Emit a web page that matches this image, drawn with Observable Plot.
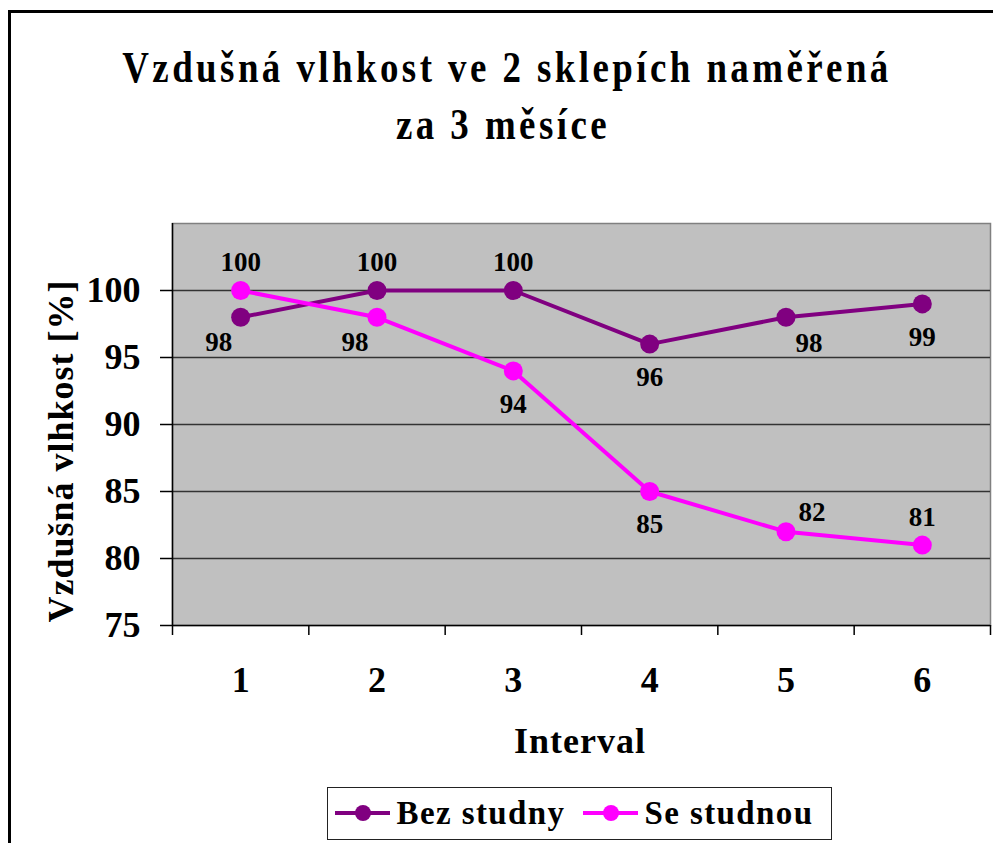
<!DOCTYPE html>
<html><head><meta charset="utf-8">
<script src="https://cdn.jsdelivr.net/npm/d3@7"></script>
<script src="https://cdn.jsdelivr.net/npm/@observablehq/plot@0.6"></script>
<style>
html,body{margin:0;padding:0;background:#fff;}
#wrap{position:relative;width:993px;height:843px;overflow:hidden;font-family:"Liberation Serif","Times New Roman",serif;font-weight:bold;color:#000;}
#chart{position:absolute;left:0;top:0;}
#frame{position:absolute;left:8px;top:10px;width:1100px;height:1000px;border-left:3px solid #000;border-top:3px solid #000;box-sizing:border-box;pointer-events:none;}
.t{position:absolute;white-space:nowrap;line-height:1;}
#legend{position:absolute;left:327px;top:787px;width:505px;height:53px;border:1.5px solid #222;box-sizing:border-box;background:#fff;}
</style></head><body>
<div id="wrap">
  <div id="chart"></div>
  <div id="frame"></div>
  <div class="t" id="title1" style="left:507px;top:45px;font-size:45px;letter-spacing:4.2px;transform:translateX(-50%) scaleX(0.82);">Vzdušná vlhkost ve 2 sklepích naměřená</div>
  <div class="t" id="title2" style="left:503px;top:102px;font-size:45px;letter-spacing:4.2px;transform:translateX(-50%) scaleX(0.82);">za 3 měsíce</div>
  <div class="t" id="ylabel" style="left:60.5px;top:451px;font-size:36px;letter-spacing:1px;transform:translate(-50%,-50%) rotate(-90deg);">Vzdušná vlhkost [%]</div>
  <div class="t" id="xlabel" style="left:580px;top:723px;font-size:36px;letter-spacing:1px;transform:translateX(-50%);">Interval</div>
  <div id="legend"></div>
</div>
<script>
const intervals = [1, 2, 3, 4, 5, 6];
const seriesNames = ["Bez studny", "Se studnou"];
const bezStudny = [98, 100, 100, 96, 98, 99];
const seStudnou = [100, 98, 94, 85, 82, 81];
const yTicks = [75, 80, 85, 90, 95, 100];
const gridValues = [80, 85, 90, 95, 100];
const bezLabelPlacement = ["below-left", "above", "above", "below", "below-right", "below"];
const seLabelPlacement = ["above", "below-left", "below", "below", "above-right", "above"];

const colors = {"Bez studny": "#800080", "Se studnou": "#ff00ff"};
const offsets = {
  "above": [0, -28],
  "below": [0, 33],
  "below-left": [-22, 25],
  "below-right": [23, 26],
  "above-right": [26, -19]
};
const FONT = '"Liberation Serif","Times New Roman",serif';

const bezRows = intervals.map((d, i) => ({interval: d, value: bezStudny[i], series: seriesNames[0], placement: bezLabelPlacement[i]}));
const seRows = intervals.map((d, i) => ({interval: d, value: seStudnou[i], series: seriesNames[1], placement: seLabelPlacement[i]}));
const allRows = bezRows.concat(seRows);
const boundaries = intervals.map(d => d - 0.5).concat([intervals[intervals.length - 1] + 0.5]);

const labelMarks = Object.keys(offsets).map(k => Plot.text(allRows.filter(r => r.placement === k), {
  x: "interval", y: "value", text: d => String(d.value),
  dx: offsets[k][0], dy: offsets[k][1],
  fontSize: 27, fontWeight: "bold", fontFamily: FONT, fill: "#000"
}));

const chart = Plot.plot({
  width: 993,
  height: 843,
  marginTop: 223,
  marginBottom: 218,
  marginLeft: 172,
  marginRight: 3,
  style: {background: "transparent", fontFamily: FONT, overflow: "visible"},
  x: {type: "linear", domain: [boundaries[0], boundaries[boundaries.length - 1]]},
  y: {domain: [75, 105]},
  marks: [
    Plot.frame({fill: "#c0c0c0", stroke: "#808080", strokeWidth: 1.5}),
    Plot.ruleY(gridValues, {stroke: "#333", strokeWidth: 1.5}),
    Plot.axisY({ticks: yTicks, tickSize: 12, tickPadding: 20, label: null, fontSize: 36, fontWeight: "bold", fontFamily: FONT, stroke: "#000", strokeWidth: 1.5, strokeOpacity: 1, fill: "#000"}),
    Plot.axisX({ticks: boundaries, tickSize: 10, tickFormat: () => "", label: null, stroke: "#000", strokeWidth: 1.5, strokeOpacity: 1}),
    Plot.axisX({ticks: intervals, tickSize: 0, tickPadding: 41, label: null, fontSize: 36, fontWeight: "bold", fontFamily: FONT, tickFormat: d => String(d), fill: "#000"}),
    Plot.ruleX([boundaries[0]], {stroke: "#000", strokeWidth: 1.5}),
    Plot.ruleY([75], {stroke: "#000", strokeWidth: 1.5}),
    Plot.line(bezRows, {x: "interval", y: "value", stroke: colors["Bez studny"], strokeWidth: 4}),
    Plot.dot(bezRows, {x: "interval", y: "value", r: 9.5, fill: colors["Bez studny"]}),
    Plot.line(seRows, {x: "interval", y: "value", stroke: colors["Se studnou"], strokeWidth: 4}),
    Plot.dot(seRows, {x: "interval", y: "value", r: 9.5, fill: colors["Se studnou"]}),
    ...labelMarks
  ]
});
document.getElementById("chart").appendChild(chart);

// legend
const legend = document.getElementById("legend");
const legendPos = [{sw: 335 - 327, tx: 397 - 327}, {sw: 583 - 327, tx: 645 - 327}];
seriesNames.forEach((name, i) => {
  const ns = "http://www.w3.org/2000/svg";
  const svg = document.createElementNS(ns, "svg");
  svg.setAttribute("width", 56); svg.setAttribute("height", 24);
  svg.style.position = "absolute";
  svg.style.left = (legendPos[i].sw - 1.5) + "px";
  svg.style.top = (813 - 787 - 12 - 1.5) + "px";
  const ln = document.createElementNS(ns, "line");
  ln.setAttribute("x1", 0); ln.setAttribute("x2", 55); ln.setAttribute("y1", 12); ln.setAttribute("y2", 12);
  ln.setAttribute("stroke", colors[name]); ln.setAttribute("stroke-width", 4);
  const c = document.createElementNS(ns, "circle");
  c.setAttribute("cx", 28); c.setAttribute("cy", 12); c.setAttribute("r", 8); c.setAttribute("fill", colors[name]);
  svg.appendChild(ln); svg.appendChild(c);
  legend.appendChild(svg);
  const t = document.createElement("div");
  t.className = "t";
  t.textContent = name;
  t.style.fontSize = "33px";
  t.style.letterSpacing = "1.4px";
  t.style.left = (legendPos[i].tx - 1.5) + "px";
  t.style.top = (825 - 787 - 27.6 - 1.5) + "px";
  legend.appendChild(t);
});
</script>
</body></html>
